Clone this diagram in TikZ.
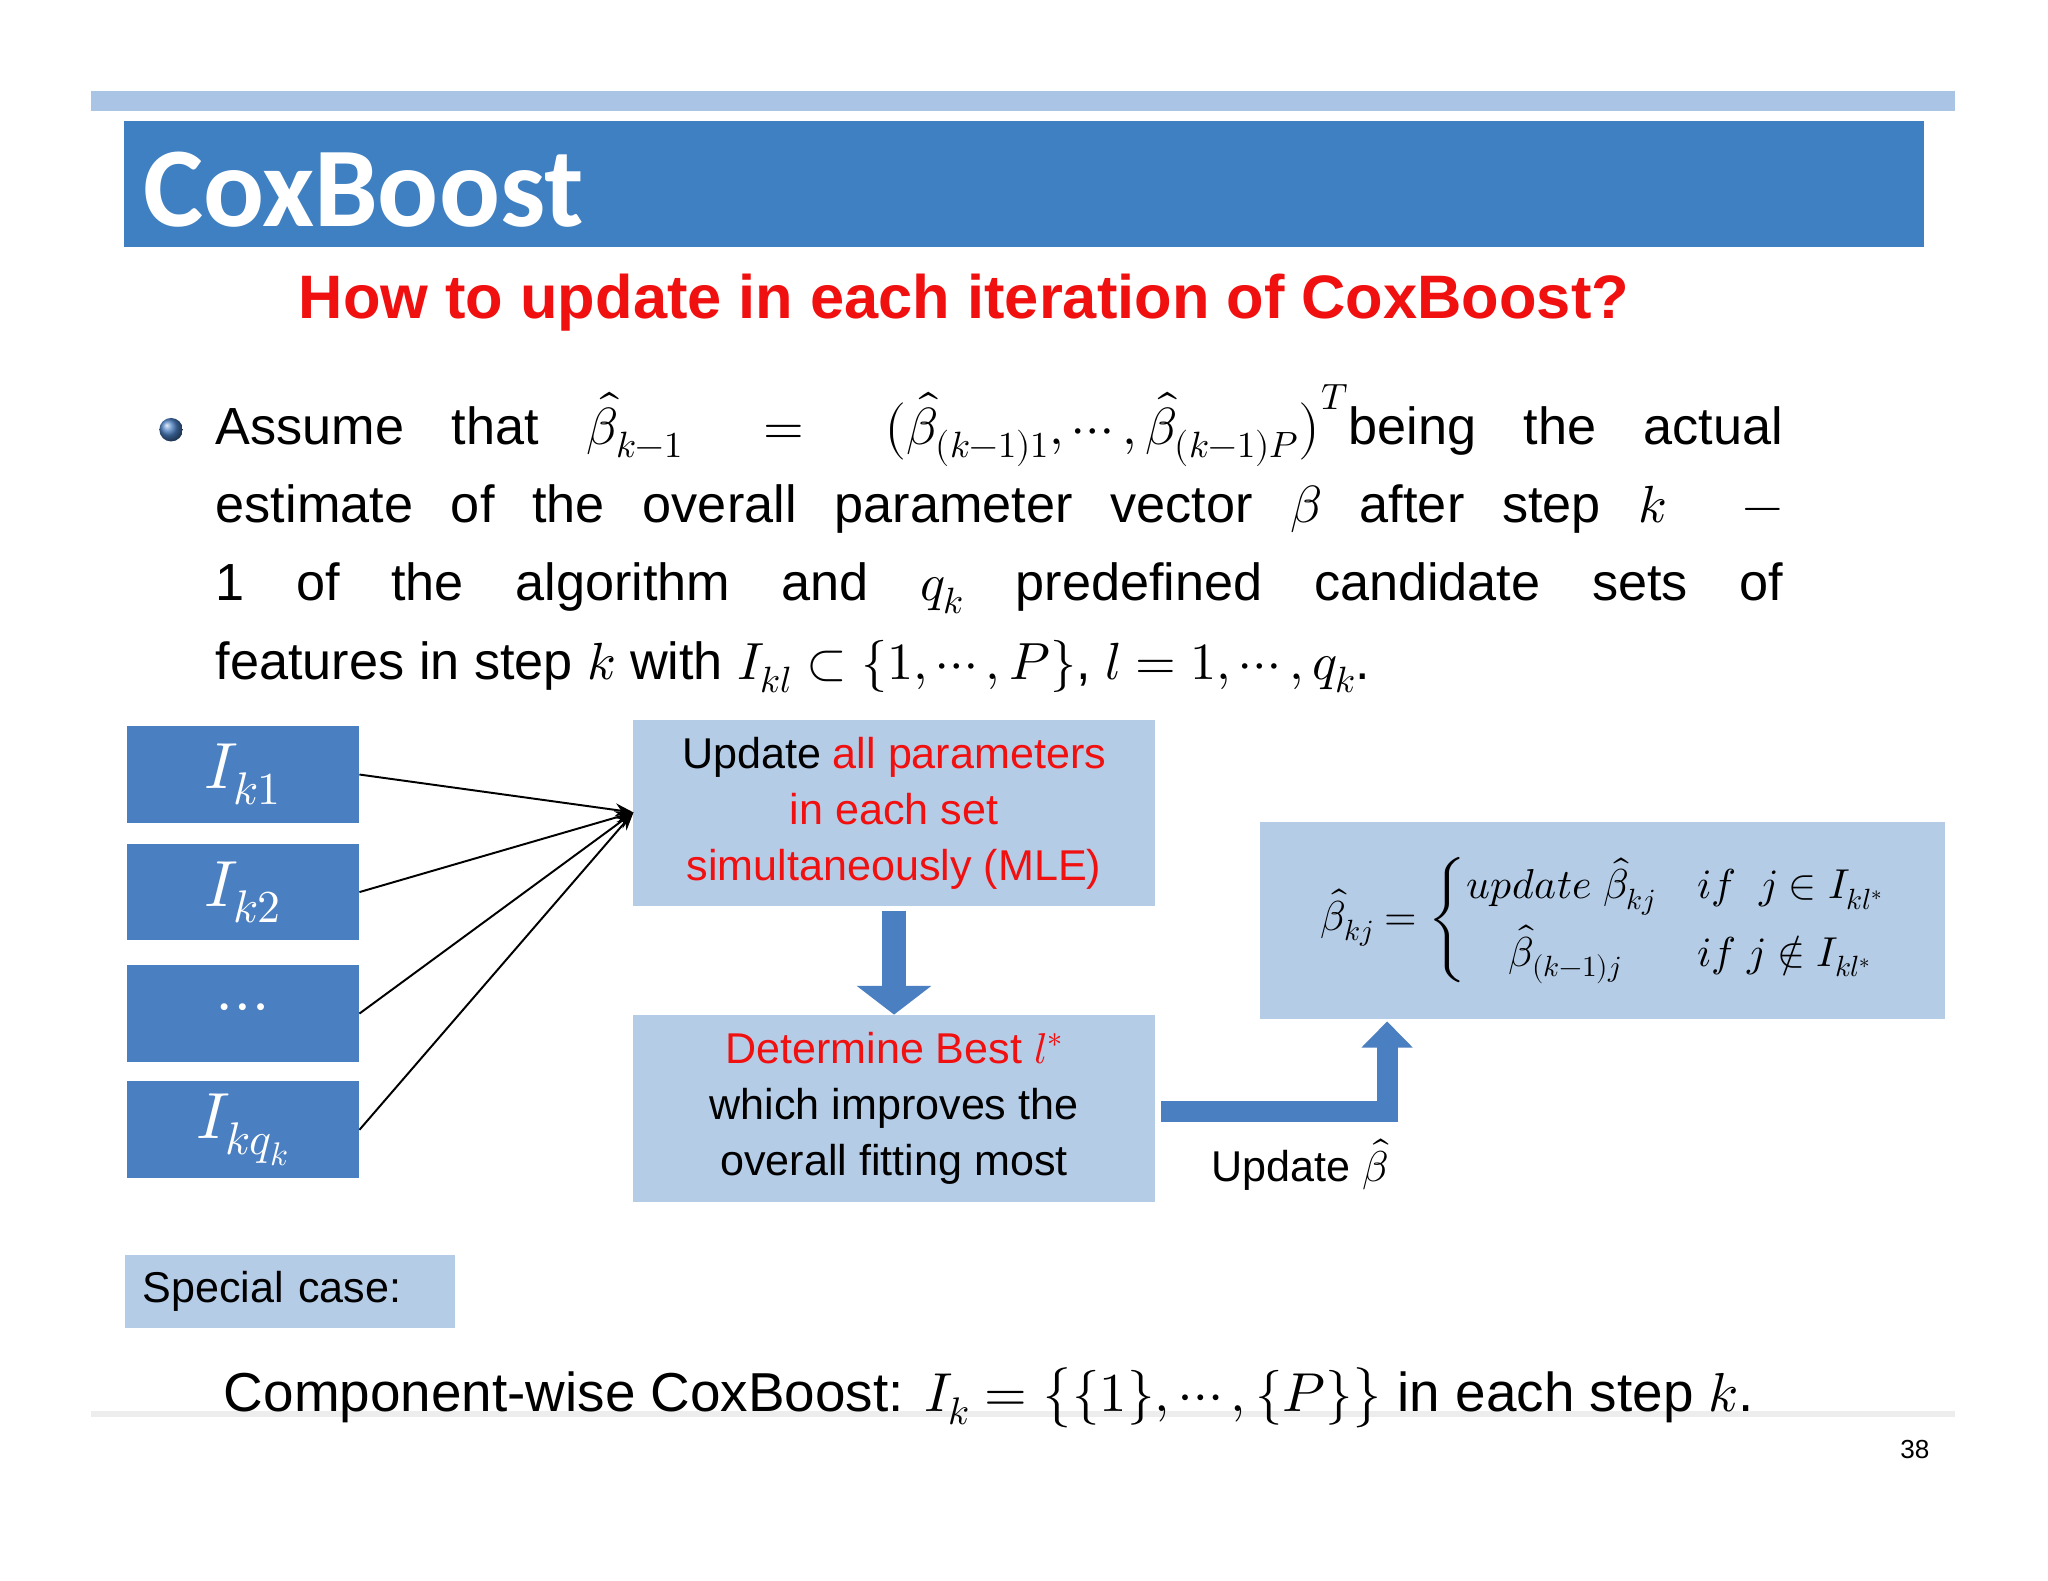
\documentclass[tikz,border=0pt]{standalone}
\usepackage{amsmath}
\usepackage{fontspec}
\usepackage{unicode-math}
\setmainfont{Liberation Sans}
\setmathfont{Latin Modern Math}
\newfontfamily\carl{Carlito}
\usetikzlibrary{arrows.meta}
\definecolor{bar}{HTML}{A9C4E4}
\definecolor{tblue}{HTML}{3F80C2}
\definecolor{kblue}{HTML}{4A7FC1}
\definecolor{lblue}{HTML}{B5CCE7}
\definecolor{rd}{HTML}{F01010}
\tikzset{
 kbox/.style={fill=kblue,minimum width=178pt,minimum height=74pt,inner sep=0pt,text=white,font=\fontsize{50}{56}\selectfont},
 lbox/.style={fill=lblue,inner sep=0pt,align=center,font=\fontsize{33}{43}\selectfont},
 con/.style={line width=1.5pt,-{Stealth[length=14pt,width=10pt]}},
 fat/.style={draw=kblue,line width=18pt},
}
\begin{document}
\begin{tikzpicture}[x=1pt,y=-1pt]
\useasboundingbox (0,0) rectangle (1568,1210);
\fill[white] (0,0) rectangle (1568,1210);
\fill[bar] (70,70) rectangle (1497,85);
\fill[tblue] (95,93) rectangle (1473,189);
\node[anchor=west,text=white,font=\carl\bfseries\fontsize{87}{90}\selectfont] (title) at (106,145) {CoxBoost};
\node[text=rd,font=\bfseries\fontsize{47}{52}\selectfont] (head) at (738,232) {How to update in each iteration of CoxBoost?};
\shade[ball color=kblue] (131,329) circle (9pt);
\node[anchor=north west,text width=1200pt,align=justify,inner sep=0pt,font=\fontsize{40}{60}\selectfont] (para) at (165,294)
{Assume that $\hat\beta_{k-1}=\bigl(\hat\beta_{(k-1)1},\cdots,\hat\beta_{(k-1)P}\bigr)^T$being the actual\linebreak
estimate of the overall parameter vector $\beta$ after step $k$~~$-$\linebreak
\ 1 of the algorithm and $q_k$ predefined candidate sets of\linebreak
features in step $k$ with $I_{kl}\subset\{1,\cdots,P\}$, $l=1,\cdots,q_k$.};
\node[kbox] (k1) at (186,593) {$I_{k1}$};
\node[kbox] (k2) at (186,683) {$I_{k2}$};
\node[kbox] (k3) at (186,776) {$\cdots$};
\node[kbox] (k4) at (186,865) {$I_{kq_k}$};
\node[lbox,minimum width=399pt,minimum height=143pt] (up) at (684.5,622.5)
{Update \textcolor{rd}{all parameters}\\\textcolor{rd}{in each set}\\\textcolor{rd}{simultaneously (MLE)}};
\node[lbox,minimum width=399pt,minimum height=143pt] (det) at (684.5,848.5)
{\textcolor{rd}{Determine Best $l^*$}\\which improves the\\overall fitting most};
\node[lbox,minimum width=524pt,minimum height=151pt,font=\fontsize{32}{40}\selectfont] (form) at (1227,704.5)
{$\hat\beta_{kj}=\begin{cases}\symit{update}\ \hat\beta_{kj} & \symit{if}\ \ j\in I_{kl^*}\\[4pt] \quad\hat\beta_{(k-1)j} & \symit{if}\ j\notin I_{kl^*}\end{cases}$};
\coordinate (t) at (485,622);
\foreach \k in {k1,k2,k3,k4} \draw[con] (\k.east) -- (t);
\draw[fat,-{Triangle[length=22pt,width=56pt]}] (up.south) ++(0,3) -- (det.north);
\coordinate (e1) at (889,851);
\coordinate (e2) at (1062,851);
\draw[fat,line width=16pt,-{Triangle[length=20pt,width=38pt]}] (e1) -- (e2) -- (1062,782);
\node[font=\fontsize{33}{40}\selectfont] (ub) at (995,892) {Update $\hat\beta$};
\node[lbox,minimum width=252pt,minimum height=56pt,align=left,text width=226pt] (sp) at (222,989) {Special case:};
\fill[black!7] (70,1080) rectangle (1497,1085);
\node[font=\fontsize{42}{48}\selectfont] (comp) at (757,1070) {Component-wise CoxBoost: $I_k=\bigl\{\{1\},\cdots,\{P\}\bigr\}$ in each step $k$.};
\node[font=\fontsize{20}{24}\selectfont] (pg) at (1466,1110) {38};
\end{tikzpicture}
\end{document}
